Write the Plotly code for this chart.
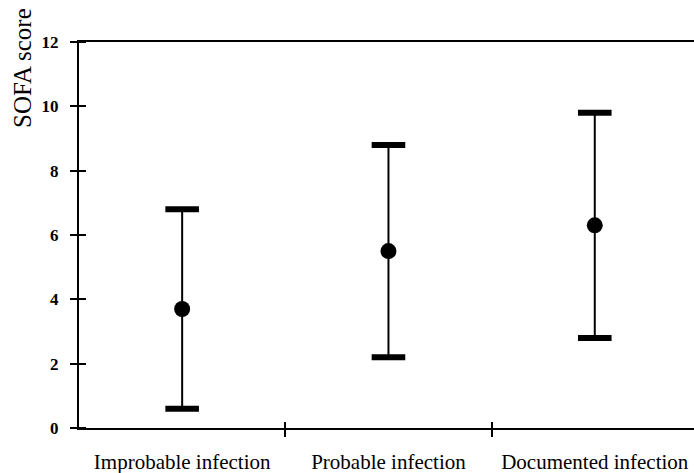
import plotly.graph_objects as go

categories = ["Improbable infection", "Probable infection", "Documented infection"]
mean_sofa = [3.7, 5.5, 6.3]
sd_sofa = [3.1, 3.3, 3.5]
y_ticks = [0, 2, 4, 6, 8, 10, 12]
y_title = "SOFA score"

xpos = list(range(len(categories)))
bounds = [i + 0.5 for i in xpos[:-1]]
upper = [m + s for m, s in zip(mean_sofa, sd_sofa)]
lower = [m - s for m, s in zip(mean_sofa, sd_sofa)]

FONT = "Liberation Serif, Times New Roman, serif"
W, H = 694, 473
ML, MT, MB = 79, 42, 45
PW, PH = W - ML, H - MT - MB

fig = go.Figure()
fig.add_trace(go.Scatter(
    x=xpos, y=mean_sofa, mode="markers",
    marker=dict(color="black", size=16),
    error_y=dict(type="data", array=sd_sofa, visible=True, color="black",
                 thickness=2, width=0),
    showlegend=False, hoverinfo="skip"))
fig.add_trace(go.Scatter(
    x=xpos + xpos, y=upper + lower, mode="markers",
    marker=dict(symbol="line-ew", size=24, line=dict(color="black", width=6)),
    showlegend=False, hoverinfo="skip"))
# invisible anchor so the crossing-tick axes are drawn
fig.add_trace(go.Scatter(x=xpos, y=mean_sofa, mode="markers", xaxis="x2", yaxis="y2",
                         marker=dict(opacity=0, size=1), showlegend=False,
                         hoverinfo="skip"))

xr = [-0.5, 2.481]
yr = [0, 12]
fig.update_layout(
    width=W, height=H,
    margin=dict(l=ML, r=0, t=MT, b=MB),
    paper_bgcolor="white", plot_bgcolor="white",
    font=dict(family=FONT, color="black"),
    xaxis=dict(range=xr, tickmode="array", tickvals=xpos, ticktext=categories,
               ticks="", showgrid=False, zeroline=False, automargin=False,
               showline=True, linecolor="black", linewidth=2, mirror=True,
               tickfont=dict(size=21, family=FONT, color="black"),
               ticklabelstandoff=14),
    xaxis2=dict(range=xr, overlaying="x", anchor="free", position=7 / PH, side="bottom",
                tickmode="array", tickvals=bounds, ticks="outside", ticklen=15,
                tickwidth=2, tickcolor="black",
                showticklabels=False, showgrid=False, zeroline=False, showline=False,
                automargin=False),
    yaxis=dict(range=yr, tickmode="array", tickvals=y_ticks,
               ticks="outside", ticklen=7, tickwidth=2, tickcolor="black",
               showgrid=False, zeroline=False, automargin=False,
               showline=True, linecolor="black", linewidth=2,
               tickfont=dict(size=17, family=FONT, color="black", weight="bold"),
               ticklabelstandoff=8),
    yaxis2=dict(range=yr, overlaying="y", anchor="free", position=7 / PW, side="left",
                tickmode="array", tickvals=y_ticks, ticks="outside", ticklen=14,
                tickwidth=2, tickcolor="black",
                showticklabels=False, showgrid=False, zeroline=False, showline=False,
                automargin=False),
    annotations=[dict(text=y_title, textangle=-90, xref="paper", yref="paper",
                      x=-0.091, y=0.933, xanchor="center", yanchor="middle",
                      showarrow=False,
                      font=dict(size=25, family=FONT, color="black"))],
)

fig.write_html("out.html")
